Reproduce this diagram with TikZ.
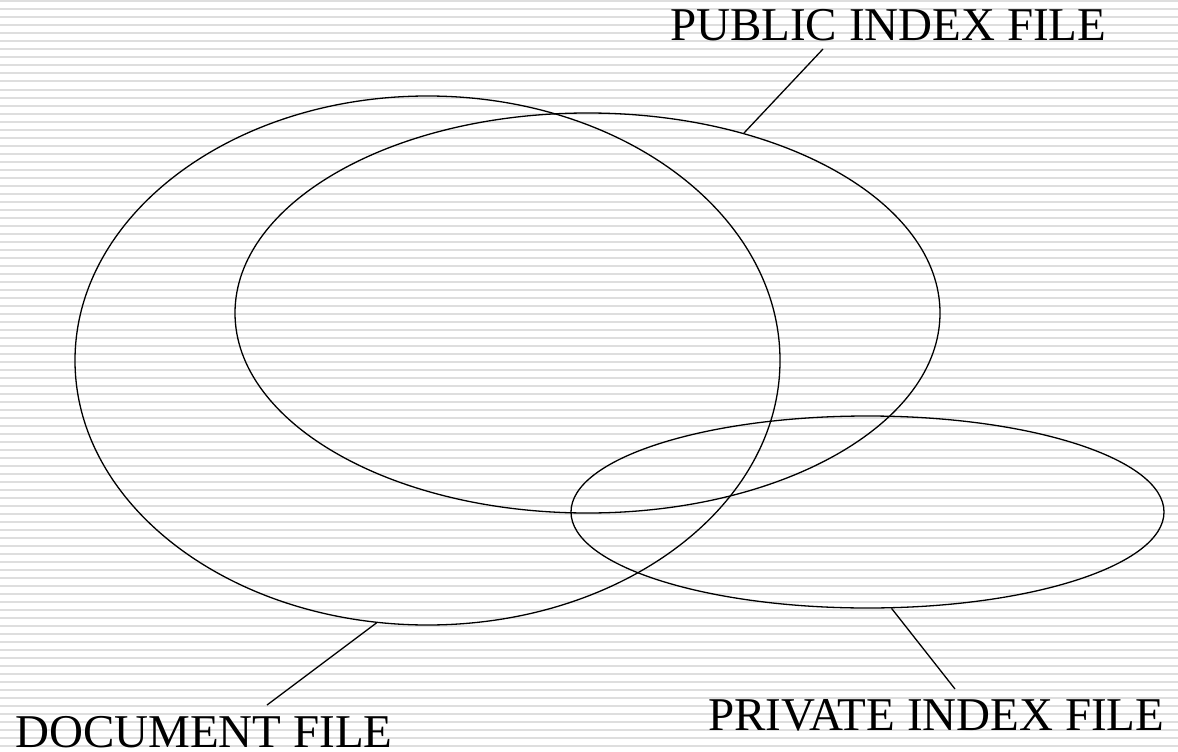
\documentclass[tikz,border=0pt]{standalone}
\usepackage{fontspec}
\setmainfont{Liberation Serif}
\usetikzlibrary{shapes.geometric}
\definecolor{stripegray}{RGB}{222,222,222}
\tikzset{
  stripe/.style={draw=stripegray, line width=2pt},
  venn/.style={draw=black, shape=ellipse, inner sep=0pt, line width=1.3pt},
  leader/.style={draw=black, line width=1.3pt},
  lbl/.style={font=\fontsize{47}{50}\selectfont, inner sep=0pt, anchor=base west}
}
\begin{document}
\begin{tikzpicture}[x=1pt,y=-1pt]
\useasboundingbox (0,0) rectangle (1178,752);
\fill[white] (0,0) rectangle (1178,752);
\foreach \i in {0,...,93} \draw[stripe] (0,1.5+8*\i) -- (1178,1.5+8*\i);
\node[venn, minimum width=705pt, minimum height=529pt] (doc) at (427.5,360.5) {};
\node[venn, minimum width=705pt, minimum height=400pt] (pub) at (587.5,313) {};
\node[venn, minimum width=593pt, minimum height=192pt] (priv) at (867.5,512) {};
\node[lbl] (publbl) at (670,41) {PUBLIC INDEX FILE};
\node[lbl] (doclbl) at (15,747) {DOCUMENT FILE};
\node[lbl] (privlbl) at (708,730) {PRIVATE INDEX FILE};
\coordinate (pubend) at (823,49);
\coordinate (docend) at (267,705);
\coordinate (privend) at (955,689);
\draw[leader] (pub.49.4) -- (pubend);
\draw[leader] (doc.259.6) -- (docend);
\draw[leader] (priv.284.2) -- (privend);
\end{tikzpicture}
\end{document}
